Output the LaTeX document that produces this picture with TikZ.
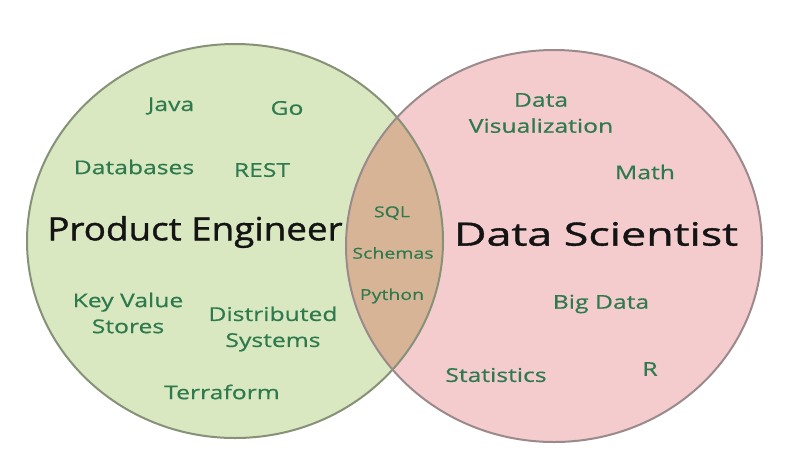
\documentclass[tikz,border=0pt]{standalone}
\usepackage{fontspec}
\setmainfont{Open Sans}
\newfontfamily\handlbl[FakeStretch=1.3,FakeBold=0.6]{Open Sans}
\newfontfamily\handttl[FakeStretch=1.15,FakeBold=1.2]{Open Sans}
\newfontfamily\handttlw[FakeStretch=1.4,FakeBold=1.2]{Open Sans}
\definecolor{gfill}{RGB}{217,232,193}
\definecolor{pfill}{RGB}{244,204,206}
\definecolor{ofill}{RGB}{216,180,150}
\definecolor{gstroke}{RGB}{135,145,120}
\definecolor{pstroke}{RGB}{155,138,140}
\definecolor{lbl}{RGB}{46,122,78}
\definecolor{ttl}{RGB}{20,20,20}
\tikzset{
  lab/.style={text=lbl, font=\handlbl\fontsize{19}{26}\selectfont, align=center, inner sep=0pt},
  labs/.style={text=lbl, font=\handlbl\fontsize{15}{20}\selectfont, align=center, inner sep=0pt},
  title/.style={text=ttl, font=\handttl\fontsize{32}{36}\selectfont, inner sep=0pt},
  titlew/.style={text=ttl, font=\handttlw\fontsize{32}{36}\selectfont, inner sep=0pt}
}
\begin{document}
\begin{tikzpicture}[x=1pt,y=-1pt]
\useasboundingbox[fill=white] (0,0) rectangle (800,472);
% fills
\fill[gfill] (235,241) ellipse [x radius=208, y radius=197];
\fill[pfill] (554,246) ellipse [x radius=208, y radius=196];
\begin{scope}
  \clip (235,241) ellipse [x radius=208, y radius=197];
  \fill[ofill] (554,246) ellipse [x radius=208, y radius=196];
\end{scope}
% outlines
\draw[gstroke, line width=2pt] (235,241) ellipse [x radius=208, y radius=197];
\draw[pstroke, line width=2pt] (554,246) ellipse [x radius=208, y radius=196];
% left labels
\node[lab] (java) at (171,106) {Java};
\node[lab] (go) at (287,108) {Go};
\node[lab] (db) at (134,167) {Databases};
\node[lab] (rest) at (262,170) {REST};
\node[title] (pe) at (195,232) {Product Engineer};
\node[lab] (kv) at (128,313) {Key Value\\Stores};
\node[lab] (ds) at (273,329) {Distributed\\Systems};
\node[lab] (tf) at (222,392) {Terraform};
% overlap
\node[labs] (sql) at (392,213) {SQL};
\node[labs] (sch) at (393,253) {Schemas};
\node[labs] (py) at (392,296) {Python};
% right labels
\node[lab] (dv) at (541,113) {Data\\Visualization};
\node[lab] (math) at (645,172) {Math};
\node[titlew] (dsc) at (596,234) {Data Scientist};
\node[lab] (bd) at (601,304) {Big Data};
\node[lab] (st) at (496,375) {Statistics};
\node[lab] (r) at (650,369) {R};
\end{tikzpicture}
\end{document}
